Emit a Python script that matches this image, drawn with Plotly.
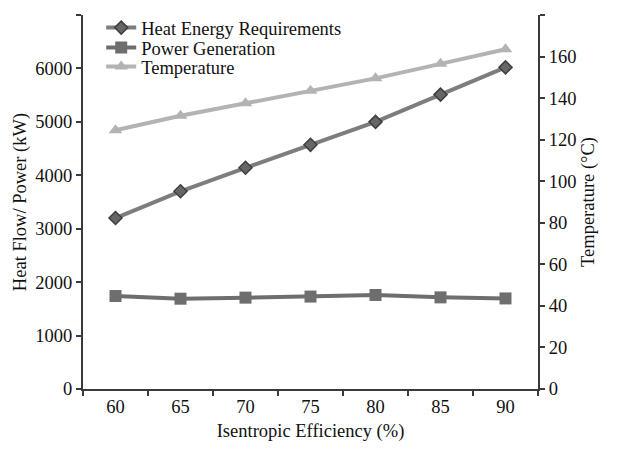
import plotly.graph_objects as go

efficiency = ["60", "65", "70", "75", "80", "85", "90"]
heat_energy = [3200, 3700, 4140, 4570, 5000, 5510, 6020]
power_gen = [1740, 1690, 1710, 1730, 1760, 1715, 1695]
temperature = [124.5, 131.5, 137.5, 143.5, 149.5, 156.5, 163.5]

FONT = "Liberation Serif"
FS = 18.5

fig = go.Figure()
fig.add_trace(go.Scatter(
    x=efficiency, y=heat_energy, name="Heat Energy Requirements",
    mode="lines+markers", legend="legend",
    line=dict(color="#7d7d7d", width=4),
    marker=dict(symbol="diamond", size=10, color="#666666",
                line=dict(color="#3f3f3f", width=1.5)),
))
fig.add_trace(go.Scatter(
    x=efficiency, y=power_gen, name="Power Generation",
    mode="lines+markers", legend="legend2",
    line=dict(color="#6e6e6e", width=4),
    marker=dict(symbol="square", size=12, color="#6e6e6e"),
))
fig.add_trace(go.Scatter(
    x=efficiency, y=temperature, name="Temperature", yaxis="y2",
    mode="lines+markers", legend="legend3",
    line=dict(color="#b3b3b3", width=4),
    marker=dict(symbol="triangle-up", size=12, color="#b3b3b3"),
))

axis_common = dict(
    showline=True, linecolor="#3a3a3a", linewidth=2,
    ticks="outside", tickcolor="#3a3a3a", ticklen=5, tickwidth=2,
    showgrid=False, zeroline=False, automargin=False,
    tickfont=dict(family=FONT, size=FS, color="#111111"),
)

leg_common = dict(xanchor="left", yanchor="middle",
                  bgcolor="rgba(0,0,0,0)",
                  font=dict(family=FONT, size=FS, color="#111111"))

fig.update_layout(
    width=621, height=450,
    margin=dict(l=75, r=91, t=7, b=69, autoexpand=False),
    paper_bgcolor="white", plot_bgcolor="white",
    font=dict(family=FONT, size=FS, color="#111111"),
    showlegend=True,
    legend=dict(x=0.04, y=0.965, **leg_common),
    legend2=dict(x=0.04, y=0.912, **leg_common),
    legend3=dict(x=0.04, y=0.861, **leg_common),
    xaxis=dict(
        **axis_common,
        type="category", range=[-0.5, 6.5],
        tickson="boundaries",
        title=dict(text="Isentropic Efficiency (%)", standoff=8,
                   font=dict(family=FONT, size=FS)),
    ),
    yaxis=dict(
        **axis_common,
        range=[0, 7000], dtick=1000,
        title=dict(text="Heat Flow/ Power (kW)", standoff=4,
                   font=dict(family=FONT, size=FS)),
    ),
    yaxis2=dict(
        **axis_common,
        overlaying="y", side="right",
        range=[0, 180], dtick=20,
        title=dict(text="Temperature (°C)", standoff=6,
                   font=dict(family=FONT, size=FS)),
    ),
)

fig.write_html("out.html")
